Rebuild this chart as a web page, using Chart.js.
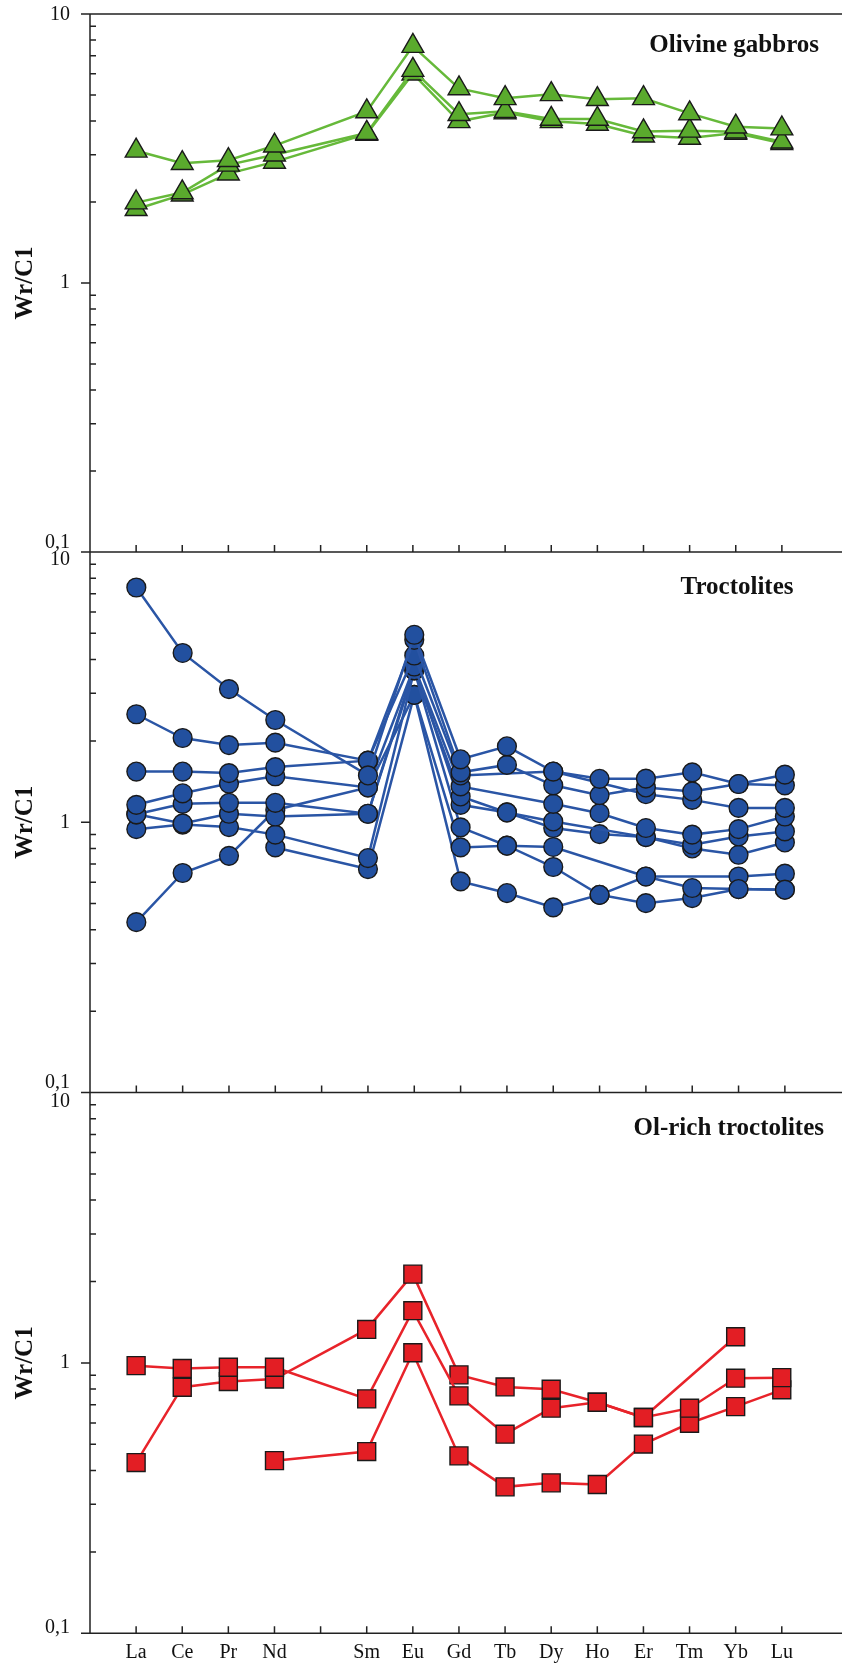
<!DOCTYPE html>
<html>
<head>
<meta charset="utf-8">
<script src="https://cdn.jsdelivr.net/npm/chart.js@4.4.1/dist/chart.umd.min.js"></script>
<style>
  body { margin: 0; background: #fff; }
  #wrap { position: relative; width: 842px; height: 1663px; }
  canvas { position: absolute; left: 0; top: 0; }
</style>
</head>
<body>
<div id="wrap">
  <canvas id="p1" width="842" height="1663"></canvas>
  <canvas id="p2" width="842" height="1663"></canvas>
  <canvas id="p3" width="842" height="1663"></canvas>
</div>
<script>
// REE order, empty slot = Pm
const elements = ['La', 'Ce', 'Pr', 'Nd', '', 'Sm', 'Eu', 'Gd', 'Tb', 'Dy', 'Ho', 'Er', 'Tm', 'Yb', 'Lu'];
const yTickValues = [0.1, 1, 10];
const yTickLabels = ['0,1', '1', '10'];
const yMinorValues = [0.2, 0.3, 0.4, 0.5, 0.6, 0.7, 0.8, 0.9, 2, 3, 4, 5, 6, 7, 8, 9];

// Olivine gabbros
const gabbro1 = [3.1, 2.79, 2.86, 3.24, null, 4.34, 7.6, 5.29, 4.86, 5.03, 4.82, 4.86, 4.27, 3.81, 3.75];
const gabbro2 = [1.99, 2.17, 2.75, 3.0, null, 3.61, 6.19, 4.24, 4.35, 4.07, 4.07, 3.66, 3.68, 3.65, 3.35];
const gabbro3 = [1.88, 2.13, 2.55, 2.82, null, 3.58, 6.0, 3.99, 4.3, 3.99, 3.9, 3.53, 3.46, 3.61, 3.31];

// Troctolites
const troct1 = [7.39, 4.23, 3.11, 2.39, null, 1.49, 4.94, 1.71, 1.91, 1.54, 1.448, 1.45, 1.53, 1.385, 1.5];
const troct2 = [2.51, 2.05, 1.93, 1.97, null, 1.69, 4.73, 1.53, 1.63, 1.37, 1.26, 1.345, 1.3, 1.385, 1.37];
const troct3 = [1.54, 1.54, 1.52, 1.6, null, 1.69, 4.14, 1.49, null, 1.54, null, 1.27, 1.21, 1.13, 1.13];
const troct4 = [1.16, 1.28, 1.39, 1.48, null, 1.345, 3.77, 1.357, null, 1.17, 1.08, 0.952, 0.9, 0.943, 1.05];
const troct5 = [1.07, 1.17, 1.18, 1.18, null, 1.075, 3.65, 1.246, 1.087, 1.007, null, 0.881, 0.826, 0.886, 0.925];
const troct6 = [1.07, 0.99, 1.075, 1.05, null, 1.075, 3.77, 1.16, 1.087, 0.952, 0.904, 0.881, 0.8, 0.758, 0.842];
const troct7 = [0.943, 0.98, 0.96, 0.9, null, 0.737, 3.65, 0.957, 0.819, 0.81, null, 0.63, 0.571, 0.566, 0.563];
const troct8 = [0.427, 0.649, 0.751, 1.11, null, 1.345, 2.96, 0.807, 0.819, 0.683, 0.539, 0.63, null, 0.63, 0.645];
const troct9 = [null, null, null, 0.807, null, 0.671, 2.96, 0.604, 0.547, 0.484, 0.539, 0.502, 0.524, 0.566, 0.563];

// Ol-rich troctolites
const olTroct1 = [0.977, 0.953, 0.964, 0.964, null, 0.736, 1.56, 0.755, 0.545, 0.68, 0.715, 0.628, 0.68, 0.878, 0.882];
const olTroct2 = [0.428, 0.813, 0.853, 0.872, null, 1.33, 2.13, 0.903, 0.815, 0.799, 0.715, 0.628, null, 1.25, null];
const olTroct3 = [null, null, null, 0.435, null, 0.47, 1.09, 0.453, 0.348, 0.36, 0.355, 0.501, 0.598, 0.689, 0.795];

const serif = '"Liberation Serif", "Times New Roman", serif';

function toPoints(values) {
  return values.map((v, i) => ({ x: i, y: v }));
}

// axes, ticks and texts drawn from the chart's own scales
const panelAxes = {
  id: 'panelAxes',
  beforeDatasetsDraw(chart, args, opts) {
    const { ctx, chartArea: a } = chart;
    const xs = chart.scales.x, ys = chart.scales.y;
    ctx.save();
    ctx.strokeStyle = '#222';
    ctx.lineWidth = 1.5;
    ctx.beginPath();
    // left axis
    ctx.moveTo(a.left, a.top);
    ctx.lineTo(a.left, a.bottom);
    // bottom axis (also the 0,1 major tick)
    ctx.moveTo(a.left - 9, a.bottom);
    ctx.lineTo(chart.width, a.bottom);
    if (opts.topLine) {
      ctx.moveTo(a.left - 9, a.top);
      ctx.lineTo(chart.width, a.top);
    }
    // major tick at 1
    const y1 = ys.getPixelForValue(1);
    ctx.moveTo(a.left - 9, y1);
    ctx.lineTo(a.left, y1);
    // minor ticks inside
    yMinorValues.forEach(v => {
      const y = ys.getPixelForValue(v);
      ctx.moveTo(a.left, y);
      ctx.lineTo(a.left + 6, y);
    });
    // category ticks pointing up
    elements.forEach((e, i) => {
      const x = xs.getPixelForValue(i);
      ctx.moveTo(x, a.bottom);
      ctx.lineTo(x, a.bottom - 7);
    });
    ctx.stroke();
    ctx.restore();
  },
  afterDraw(chart, args, opts) {
    const { ctx, chartArea: a } = chart;
    const xs = chart.scales.x, ys = chart.scales.y;
    ctx.save();
    ctx.fillStyle = '#111';
    ctx.font = '20px ' + serif;
    ctx.textAlign = 'right';
    ctx.textBaseline = 'middle';
    yTickValues.forEach((v, i) => {
      let y = ys.getPixelForValue(v);
      if (v === 10) y += opts.topLabelDy;
      if (v === 0.1) y += opts.bottomLabelDy;
      ctx.fillText(yTickLabels[i], 70, y);
    });
    if (opts.showCategories) {
      ctx.textAlign = 'center';
      ctx.textBaseline = 'alphabetic';
      elements.forEach((e, i) => {
        ctx.fillText(e, xs.getPixelForValue(i), a.bottom + 25);
      });
    }
    // y title
    ctx.font = 'bold 25px ' + serif;
    ctx.textAlign = 'center';
    ctx.textBaseline = 'alphabetic';
    ctx.save();
    ctx.translate(31.5, (a.top + a.bottom) / 2);
    ctx.rotate(-Math.PI / 2);
    ctx.fillText('Wr/C1', 0, 0);
    ctx.restore();
    // panel title
    ctx.textAlign = 'right';
    ctx.fillText(opts.title, opts.titleRight, a.top + opts.titleDy);
    ctx.restore();
  }
};

function makePanel(id, series, style, area, axisOpts) {
  new Chart(document.getElementById(id), {
    type: 'line',
    data: {
      datasets: series.map(values => ({
        data: toPoints(values),
        borderColor: style.line,
        borderWidth: 2.5,
        backgroundColor: style.fill,
        pointBackgroundColor: style.fill,
        pointBorderColor: '#1a1a1a',
        pointBorderWidth: 1.4,
        pointStyle: style.marker,
        pointRadius: style.radius,
        spanGaps: true,
        tension: 0,
        clip: false
      }))
    },
    options: {
      responsive: false,
      animation: false,
      events: [],
      layout: { padding: { left: 90, right: 0, top: area.top, bottom: 1663 - area.bottom } },
      scales: {
        x: { type: 'linear', min: -1, max: 15, display: false },
        y: { type: 'logarithmic', min: 0.1, max: 10, display: false }
      },
      plugins: {
        legend: { display: false },
        tooltip: { enabled: false },
        panelAxes: axisOpts
      }
    },
    plugins: [panelAxes]
  });
}

makePanel('p1', [gabbro1, gabbro2, gabbro3],
  { line: '#66b93a', fill: '#5aaa2d', marker: 'triangle', radius: 12.6 },
  { top: 11, bottom: 552 },
  { topLine: true, topLabelDy: 0.7, bottomLabelDy: -9.5, showCategories: false,
    title: 'Olivine gabbros', titleRight: 819, titleDy: 38 });

makePanel('p2', [troct1, troct2, troct3, troct4, troct5, troct6, troct7, troct8, troct9],
  { line: '#2a55a5', fill: '#22509f', marker: 'circle', radius: 9.4 },
  { top: 552, bottom: 1092.5 },
  { topLine: false, topLabelDy: 8, bottomLabelDy: -9.5, showCategories: false,
    title: 'Troctolites', titleRight: 793.5, titleDy: 42 });

makePanel('p3', [olTroct1, olTroct2, olTroct3],
  { line: '#e8232a', fill: '#e31e24', marker: 'rect', radius: 12.7 },
  { top: 1092.5, bottom: 1633.3 },
  { topLine: false, topLabelDy: 9, bottomLabelDy: -5.5, showCategories: true,
    title: 'Ol-rich troctolites', titleRight: 824, titleDy: 42 });
</script>
</body>
</html>
